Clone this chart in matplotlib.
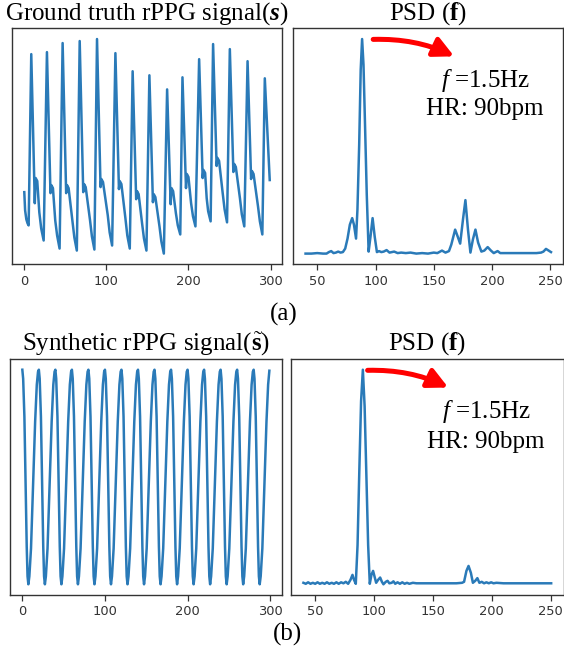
import matplotlib
matplotlib.use("Agg")
import matplotlib.pyplot as plt

# ---------------- data ----------------
# Ground-truth rPPG signal: polyline vertices (frame index, amplitude, arbitrary units)
gt_x = [0, 1, 2.5, 4, 5.3,
        8.5, 12.8, 13.8, 15.8, 18.3, 20.6, 23.6,
        27.6, 31.9, 32.9, 34.9, 37.7, 40, 43,
        46.7, 51, 52, 54, 58.7, 61, 64,
        67.5, 71.8, 72.8, 74.8, 80.1, 82.4, 85.4,
        88.6, 92.9, 93.9, 95.9, 101.7, 104, 107,
        111, 115.3, 116.3, 118.3, 123.2, 125.5, 128.5,
        132, 136.3, 137.3, 139.3, 143.5, 145.8, 148.8,
        152.4, 156.7, 157.7, 159.7, 164.7, 167, 170,
        174, 178.3, 179.3, 181.3, 184.7, 187, 190,
        192.7, 197, 198, 200, 203.2, 205.5, 208.5,
        213, 217.3, 218.3, 220.3, 222.2, 224, 227,
        230, 234.3, 235.3, 237.3, 241.7, 244, 247,
        250.4, 254.7, 255.7, 257.7, 262.7, 265, 268,
        272, 276.3, 277.3, 279.3, 284.7, 287, 290,
        293, 299]
gt_y = [73, 55, 46, 42, 40,
        210, 62, 87, 84, 53, 37, 25,
        212, 72, 80, 77, 45, 30, 17,
        221, 72, 80, 77, 44, 28, 15,
        223, 73, 81, 78, 45, 29, 16,
        225, 78, 86, 83, 50, 33, 20,
        211, 76, 84, 81, 47, 30, 17,
        193, 66, 74, 71, 42, 27, 15,
        189, 63, 71, 68, 39, 24, 12,
        175, 61, 77, 74, 52, 40, 31,
        187, 77, 91, 88, 62, 49, 39,
        205, 87, 95, 92, 67, 54, 44,
        220, 99, 107, 104, 72, 56, 43,
        215, 93, 101, 98, 67, 51, 39,
        203, 86, 94, 91, 59, 44, 31,
        186, 85]

# PSD of ground-truth signal (bpm, power, arbitrary units)
psd1_x = [40, 45, 50, 55, 58, 60, 62, 64, 66, 68, 70, 72, 74, 76, 78,
          80, 81.5, 83.3, 84.5, 86, 87.3, 88.5, 89.7, 91, 92.5,
          94.1, 95.7, 97.5, 99.3, 101.2, 103, 105, 107, 109.5, 112,
          114, 116, 119, 122, 126, 130, 135, 140, 145, 150,
          153, 157, 160, 163, 165, 168.3, 170.5, 172.6, 175, 177.1,
          179.3, 181.4, 183.5, 185.7, 188, 190.8, 193.3, 196.2, 199, 201.4,
          204.7, 207, 212, 220, 230, 238, 242, 244, 246.2, 248.5, 250.5]
psd1_y = [11, 11, 11.5, 11, 11, 12.5, 13.5, 11.5, 12, 13, 12, 12.5, 16, 26, 40,
          46.5, 40, 26, 55, 120, 195, 225.7, 200, 140, 70,
          13, 28, 46.5, 28, 12.5, 13.5, 12.5, 13, 14.5, 12,
          12.5, 13, 11.5, 12, 11.5, 12, 11, 11.5, 11, 12,
          11.5, 14, 12, 13.5, 20, 35, 28, 21, 45, 64.5,
          35, 12, 25, 35, 22, 13, 14, 17.5, 14, 11.5,
          13.5, 11.5, 11.5, 11.5, 11.5, 11.5, 12, 13, 15.7, 14, 12.5]

# Synthetic rPPG signal: one cycle's shape (offset from the cycle's peak, amplitude)
# and the frame at which each of the 15 cycles starts (peaks)
syn_cycle_dx = [0, 1, 2.5, 4, 5.3, 6.3, 7.3, 8.5, 10.5, 13, 15.5, 17.5, 19]
syn_cycle_y = [227, 218, 180, 110, 50, 20, 12, 20, 48, 110, 175, 212, 225]
syn_peaks = [0, 20, 40, 60, 80, 100, 120, 140, 160, 180, 200, 220, 240, 260, 280]
syn_end_x, syn_end_y = 299, 226

# PSD of synthetic signal
psd2_x = [40, 42, 44, 46, 48, 50, 52, 54, 56, 58,
          60, 62, 64, 66, 68, 70, 72, 74, 76, 78,
          80, 81.7, 83, 84.5, 86, 87.5, 89, 90.5, 92, 93.5,
          95, 96.4, 97.8, 99.2, 100.5, 101.8, 103.5, 105.2, 106.7, 108,
          110, 111.5, 113, 115, 116.5, 118, 120, 122, 124, 126,
          128, 130, 133, 136, 140, 145, 150, 160, 170, 174.8,
          176.5, 178.5, 180.3, 182.3, 184, 186, 187.8, 189.5, 191.5, 193.5,
          195.5, 197.5, 199.5, 201.5, 204, 210, 220, 230, 240, 250.5]
psd2_y = [12, 11, 12.5, 11, 12, 11, 12.5, 11, 12, 11,
          12.5, 11, 12, 11, 12.5, 11, 12.5, 11.5, 13, 11,
          15, 20, 15, 11, 50, 125, 195, 226.7, 190, 120,
          50, 11, 20, 24, 18, 12, 15, 17.3, 13, 10.5,
          13, 14, 11.5, 12, 13.5, 11, 12.5, 11, 12.5, 11,
          12, 11, 12, 11.5, 11.5, 11.5, 11.5, 11.5, 11.5, 12,
          13, 24, 29, 22, 12, 14, 16.7, 12, 13, 11.5,
          12.5, 11.5, 12.5, 11.5, 12, 11.5, 11.5, 11.5, 11.5, 11.5]

sig_ticks = [0, 100, 200, 300]
psd_ticks = [50, 100, 150, 200, 250]
titles = [r"Ground truth rPPG signal($\mathbfit{s}$)", r"PSD ($\mathbf{f}$)",
          r"Synthetic rPPG signal($\tilde{\mathbf{s}}$)", r"PSD ($\mathbf{f}$)"]
note1 = r"$f$ =1.5Hz"
note2 = "HR: 90bpm"
panel_labels = ["(a)", "(b)"]

# assemble the synthetic polyline from the read cycle shape
syn_x, syn_y = [], []
for p in syn_peaks:
    syn_x += [p + d for d in syn_cycle_dx]
    syn_y += list(syn_cycle_y)
syn_x.append(syn_end_x)
syn_y.append(syn_end_y)

# ---------------- style ----------------
plt.rcParams["font.family"] = ["DejaVu Sans"]
plt.rcParams["mathtext.fontset"] = "custom"
plt.rcParams["mathtext.rm"] = "Liberation Serif"
plt.rcParams["mathtext.it"] = "Liberation Serif:italic"
plt.rcParams["mathtext.bf"] = "Liberation Serif:bold"
plt.rcParams["mathtext.bfit"] = "Liberation Serif:italic:bold"

LINE = "#2a7ab8"
SPINE = "#333333"
SERIF = "Liberation Serif"

fig = plt.figure(figsize=(5.64, 6.52), dpi=100)
ax1 = fig.add_axes([0.0213, 0.5946, 0.4787, 0.3620])
ax2 = fig.add_axes([0.5200, 0.5946, 0.4787, 0.3620])
ax3 = fig.add_axes([0.0177, 0.0874, 0.4818, 0.3620])
ax4 = fig.add_axes([0.5160, 0.0874, 0.4832, 0.3620])

ax1.plot(gt_x, gt_y, color=LINE, lw=1.8)
ax2.plot(psd1_x, psd1_y, color=LINE, lw=1.8)
ax3.plot(syn_x, syn_y, color=LINE, lw=1.8)
ax4.plot(psd2_x, psd2_y, color=LINE, lw=1.8)

for ax, ticks, t in zip([ax1, ax2, ax3, ax4],
                        [sig_ticks, psd_ticks, sig_ticks, psd_ticks], titles):
    ax.set_xticks(ticks)
    ax.set_yticks([])
    ax.tick_params(axis="x", labelsize=9.4, colors=SPINE, length=4, width=0.9)
    for s in ax.spines.values():
        s.set_color(SPINE)
        s.set_linewidth(1.0)
    ax.set_title(t, fontfamily=SERIF, fontsize=18, pad=6.5)

# annotations on the PSD panels
for ax, (sx, sy, ex, ey, tx, ty1, ty2) in [
        (ax2, (0.296, 0.953, 0.596, 0.881, 0.711, 0.750, 0.631)),
        (ax4, (0.281, 0.952, 0.577, 0.879, 0.716, 0.752, 0.623))]:
    ax.annotate("", xy=(ex, ey), xytext=(sx, sy),
                xycoords="axes fraction", textcoords="axes fraction",
                arrowprops=dict(arrowstyle="-|>,head_length=0.6,head_width=0.3",
                                connectionstyle="arc3,rad=-0.12",
                                color="#ff0000", lw=3.6, shrinkA=0, shrinkB=0,
                                mutation_scale=20))
    ax.text(tx, ty1, note1, transform=ax.transAxes, ha="center", va="baseline",
            fontfamily=SERIF, fontsize=18)
    ax.text(tx, ty2, note2, transform=ax.transAxes, ha="center", va="baseline",
            fontfamily=SERIF, fontsize=18)

fig.text(284 / 564, 1 - 321 / 652, panel_labels[0], ha="center", va="baseline",
         fontfamily=SERIF, fontsize=18)
fig.text(287 / 564, 1 - 641 / 652, panel_labels[1], ha="center", va="baseline",
         fontfamily=SERIF, fontsize=18)

fig.savefig("out.png", dpi=100)
